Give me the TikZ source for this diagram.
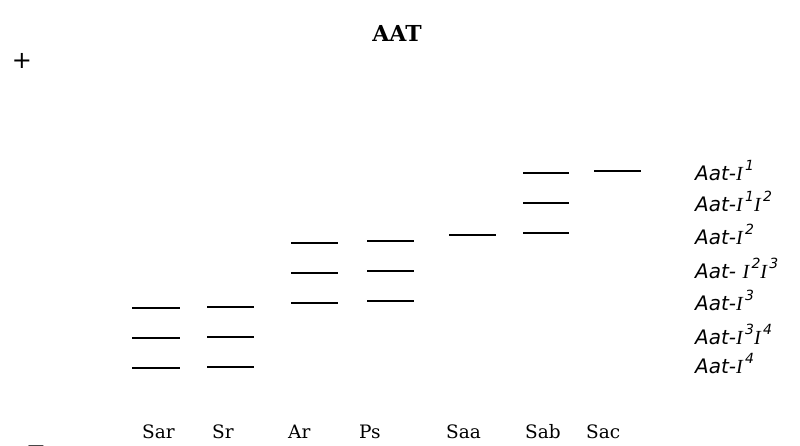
\documentclass[tikz,border=0pt]{standalone}
\usepackage{fontspec}
\setmainfont{DejaVu Serif}
\newfontfamily\aatfont{DejaVu Sans}
\newfontfamily\ifont{Liberation Serif}
\usetikzlibrary{positioning}
\newcommand\Ia{{\ifont\itshape I}}
\newcommand\upn[1]{\raisebox{0.5em}{\fontsize{14}{14}\selectfont\,#1}}

\begin{document}
\begin{tikzpicture}[x=1pt,y=-1pt,
level/.style={line width=2.8pt},
species/.style={font=\fontsize{18.5}{18.5}\selectfont,anchor=base west,inner sep=0pt},
allele/.style={font=\aatfont\itshape\fontsize{20}{20}\selectfont,anchor=base west,inner sep=0pt},
sign/.style={font=\aatfont\fontsize{24}{24}\selectfont,inner sep=0pt}]
\useasboundingbox (0,0) rectangle (800,445);
\node[font=\bfseries\fontsize{22}{22}\selectfont] (title) at (397,33) {AAT};
\node[sign] (plus) at (22,61) {+};
\node[sign,anchor=base] (minus) at (36,452.5) {$-$};
% bands per species
\foreach \xa/\xb/\ys in {132/180/{308,338,368},207/254/{307,337,367},
  291/338/{243,273,303},367/414/{241,271,301},449/496/{235},
  523/569/{173,203,233},594/641/{171}}
  \foreach \y in \ys \draw[level] (\xa,\y)--(\xb,\y);
\node[species] (sar) at (142,438) {Sar};
\node[species] (sr) at (212,438) {Sr};
\node[species] (ar) at (288,438) {Ar};
\node[species] (ps) at (359,438) {Ps};
\node[species] (saa) at (446,438) {Saa};
\node[species] (sab) at (525,438) {Sab};
\node[species] (sac) at (586,438) {Sac};
\node[allele] (a1) at (695,180) {Aat-\Ia\upn{1}};
\node[allele] (a12) at (695,211) {Aat-\Ia\upn{1}\Ia\upn{2}};
\node[allele] (a2) at (695,244) {Aat-\Ia\upn{2}};
\node[allele] (a23) at (695,278) {Aat- \Ia\upn{2}\Ia\upn{3}};
\node[allele] (a3) at (695,310) {Aat-\Ia\upn{3}};
\node[allele] (a34) at (695,344) {Aat-\Ia\upn{3}\Ia\upn{4}};
\node[allele] (a4) at (695,373) {Aat-\Ia\upn{4}};
\end{tikzpicture}
\end{document}
